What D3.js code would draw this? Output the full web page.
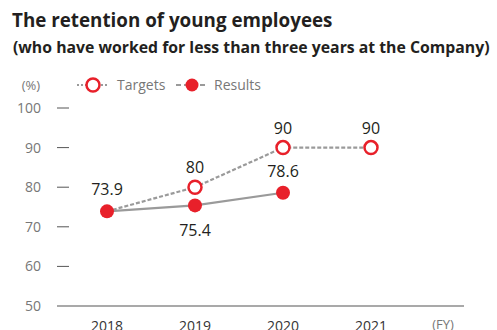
<!DOCTYPE html>
<html>
<head>
<meta charset="utf-8">
<script src="https://cdn.jsdelivr.net/npm/d3@7"></script>
<style>
  body { margin: 0; background: #fff; }
  svg { font-family: "Open Sans", sans-serif; }
</style>
</head>
<body>
<svg id="chart" width="497" height="330"></svg>
<script>
const years = ["2018", "2019", "2020", "2021"];
const targets = [73.9, 80, 90, 90];
const results = [73.9, 75.4, 78.6];
const yTicks = [50, 60, 70, 80, 90, 100];

const red = "#e8202a";
const svg = d3.select("#chart");

svg.append("text").attr("x", 12).attr("y", 27)
    .attr("font-size", 18.8).attr("font-weight", "bold").attr("fill", "#231f20")
    .text("The retention of young employees");
svg.append("text").attr("x", 13).attr("y", 53)
    .attr("font-size", 15.8).attr("font-weight", "bold").attr("fill", "#231f20")
    .text("(who have worked for less than three years at the Company)");

const x = d3.scalePoint().domain(years).range([107, 371]);
const y = d3.scaleLinear().domain([50, 100]).range([306, 108]);

// y ticks
const yAxis = svg.append("g");
yAxis.selectAll("line").data(yTicks.filter(d => d > 50)).join("line")
    .attr("x1", 57).attr("x2", 69)
    .attr("y1", d => y(d)).attr("y2", d => y(d))
    .attr("stroke", "#555").attr("stroke-width", 1);
yAxis.selectAll("text").data(yTicks).join("text")
    .attr("x", 41).attr("y", d => y(d) + 5)
    .attr("text-anchor", "end").attr("font-size", 14).attr("fill", "#777")
    .text(d => d);

svg.append("line").attr("x1", 57).attr("x2", 464)
    .attr("y1", y(50)).attr("y2", y(50))
    .attr("stroke", "#555").attr("stroke-width", 1.2);

svg.selectAll(".year").data(years).join("text")
    .attr("class", "year")
    .attr("x", d => x(d)).attr("y", 331)
    .attr("text-anchor", "middle").attr("font-size", 14).attr("fill", "#333")
    .text(d => d);
svg.append("text").attr("x", 443).attr("y", 329)
    .attr("text-anchor", "middle").attr("font-size", 13).attr("fill", "#777")
    .text("(FY)");

svg.append("text").attr("x", 31).attr("y", 90)
    .attr("text-anchor", "middle").attr("font-size", 13).attr("fill", "#777")
    .text("(%)");

// lines
const line = d3.line().x((d, i) => x(years[i])).y(d => y(d));
svg.append("path").datum(targets).attr("d", line)
    .attr("fill", "none").attr("stroke", "#9a9a9a")
    .attr("stroke-width", 2.2).attr("stroke-dasharray", "4,2");
svg.append("path").datum(results).attr("d", line)
    .attr("fill", "none").attr("stroke", "#9a9a9a").attr("stroke-width", 2.2);

// markers
svg.selectAll(".tgt").data(targets.slice(1)).join("circle")
    .attr("class", "tgt")
    .attr("cx", (d, i) => x(years[i + 1])).attr("cy", d => y(d))
    .attr("r", 6.5).attr("fill", "#fff").attr("stroke", red).attr("stroke-width", 2.5);
svg.selectAll(".res").data(results).join("circle")
    .attr("class", "res")
    .attr("cx", (d, i) => x(years[i])).attr("cy", d => y(d))
    .attr("r", 7).attr("fill", red);

// value labels
const fmt = d => Number.isInteger(d) ? d : d.toFixed(1);
svg.selectAll(".tlab").data(targets.slice(1)).join("text")
    .attr("class", "tlab")
    .attr("x", (d, i) => x(years[i + 1])).attr("y", d => y(d) - 14)
    .attr("text-anchor", "middle").attr("font-size", 16).attr("fill", "#231f20")
    .text(fmt);
const resOffsets = [-16, 31, -16];
svg.selectAll(".rlab").data(results).join("text")
    .attr("class", "rlab")
    .attr("x", (d, i) => x(years[i])).attr("y", (d, i) => y(d) + resOffsets[i])
    .attr("text-anchor", "middle").attr("font-size", 16).attr("fill", "#231f20")
    .text(fmt);

// legend
const lg = svg.append("g").attr("transform", "translate(0,85)");
lg.append("line").attr("x1", 77).attr("x2", 109).attr("y1", 0).attr("y2", 0)
    .attr("stroke", "#9a9a9a").attr("stroke-width", 2.2).attr("stroke-dasharray", "2,2");
lg.append("circle").attr("cx", 93).attr("cy", 0).attr("r", 6.5)
    .attr("fill", "#fff").attr("stroke", red).attr("stroke-width", 2.5);
lg.append("text").attr("x", 117).attr("y", 5).attr("font-size", 14).attr("fill", "#777").text("Targets");
lg.append("line").attr("x1", 176).attr("x2", 208).attr("y1", 0).attr("y2", 0)
    .attr("stroke", "#9a9a9a").attr("stroke-width", 2.2).attr("stroke-dasharray", "5,3");
lg.append("circle").attr("cx", 192).attr("cy", 0).attr("r", 6.5).attr("fill", red);
lg.append("text").attr("x", 214).attr("y", 5).attr("font-size", 14).attr("fill", "#777").text("Results");
</script>
</body>
</html>
